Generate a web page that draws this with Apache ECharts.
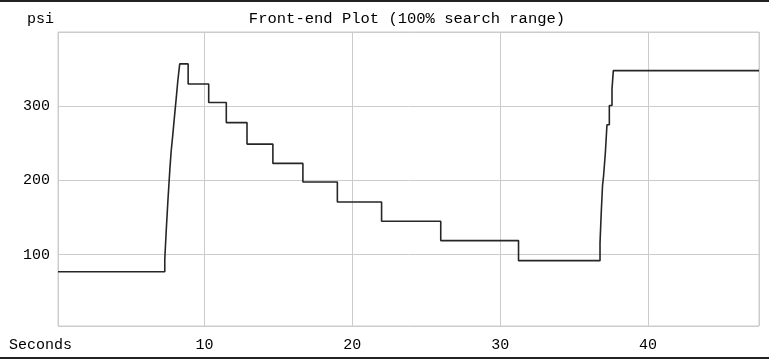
<!DOCTYPE html>
<html>
<head>
<meta charset="utf-8">
<script src="https://cdn.jsdelivr.net/npm/echarts@6/dist/echarts.min.js"></script>
<style>
html,body{margin:0;padding:0;background:#fff;}
#chart{width:769px;height:360px;}
</style>
</head>
<body>
<div id="chart"></div>
<script>
// Data
const titleText = 'Front-end Plot (100% search range)';
const yUnit = 'psi';
const xUnit = 'Seconds';
const times = [0.1, 7.32, 7.42, 7.53, 7.62, 7.66, 7.75, 7.86, 7.98, 8.09, 8.2, 8.33, 8.9,
  10.29, 11.48, 12.88, 14.63, 16.66, 18.99, 21.98, 25.98, 31.24,
  36.75, 36.84, 36.92, 36.99, 37.11, 37.22, 37.38, 37.56, 37.65, 47.5];
const pressures = [77, 94, 133, 172, 201, 214, 239, 261, 287, 310, 334, 357, 330,
  305, 278, 249, 223, 198, 171, 145, 119, 92,
  116, 160, 193, 206, 237, 275, 301, 323, 348, 348];
const xRange = [0.1, 47.5];
const yRange = [4, 400];

const FONT = '"Liberation Mono", "Courier New", monospace';
const chart = echarts.init(document.getElementById('chart'), null, {renderer: 'canvas'});
const data = times.map((t, i) => [t, pressures[i]]);

chart.setOption({
  animation: false,
  backgroundColor: '#ffffff',
  grid: {left: 58, right: 10, top: 32, bottom: 34, show: true, borderColor: '#cccccc', borderWidth: 1},
  xAxis: {
    type: 'value', min: xRange[0], max: xRange[1],
    axisLine: {show: false}, axisTick: {show: false},
    splitLine: {show: true, lineStyle: {color: '#cccccc', width: 1}},
    axisLabel: {showMinLabel: false, showMaxLabel: false, color: '#000', fontFamily: FONT, fontSize: 15, margin: 12}
  },
  yAxis: {
    type: 'value', min: yRange[0], max: yRange[1],
    axisLine: {show: false}, axisTick: {show: false},
    splitLine: {show: true, lineStyle: {color: '#cccccc', width: 1}},
    axisLabel: {showMinLabel: false, showMaxLabel: false, color: '#000', fontFamily: FONT, fontSize: 15, margin: 8}
  },
  series: [{
    type: 'line', data: data, step: 'end', symbol: 'none',
    lineStyle: {color: '#262626', width: 1.6}
  }],
  graphic: [
    {type: 'rect', shape: {x: 0, y: 0, width: 769, height: 2}, style: {fill: '#222'}},
    {type: 'rect', shape: {x: 0, y: 357, width: 769, height: 2}, style: {fill: '#222'}},
    {type: 'text', x: 407, y: 19, style: {text: titleText, font: '15.5px ' + FONT, fill: '#000', textAlign: 'center', textVerticalAlign: 'middle'}},
    {type: 'text', x: 27, y: 19, style: {text: yUnit, font: '15px ' + FONT, fill: '#000', textAlign: 'left', textVerticalAlign: 'middle'}},
    {type: 'text', x: 9, y: 345, style: {text: xUnit, font: '15px ' + FONT, fill: '#000', textAlign: 'left', textVerticalAlign: 'middle'}}
  ]
});
</script>
</body>
</html>
